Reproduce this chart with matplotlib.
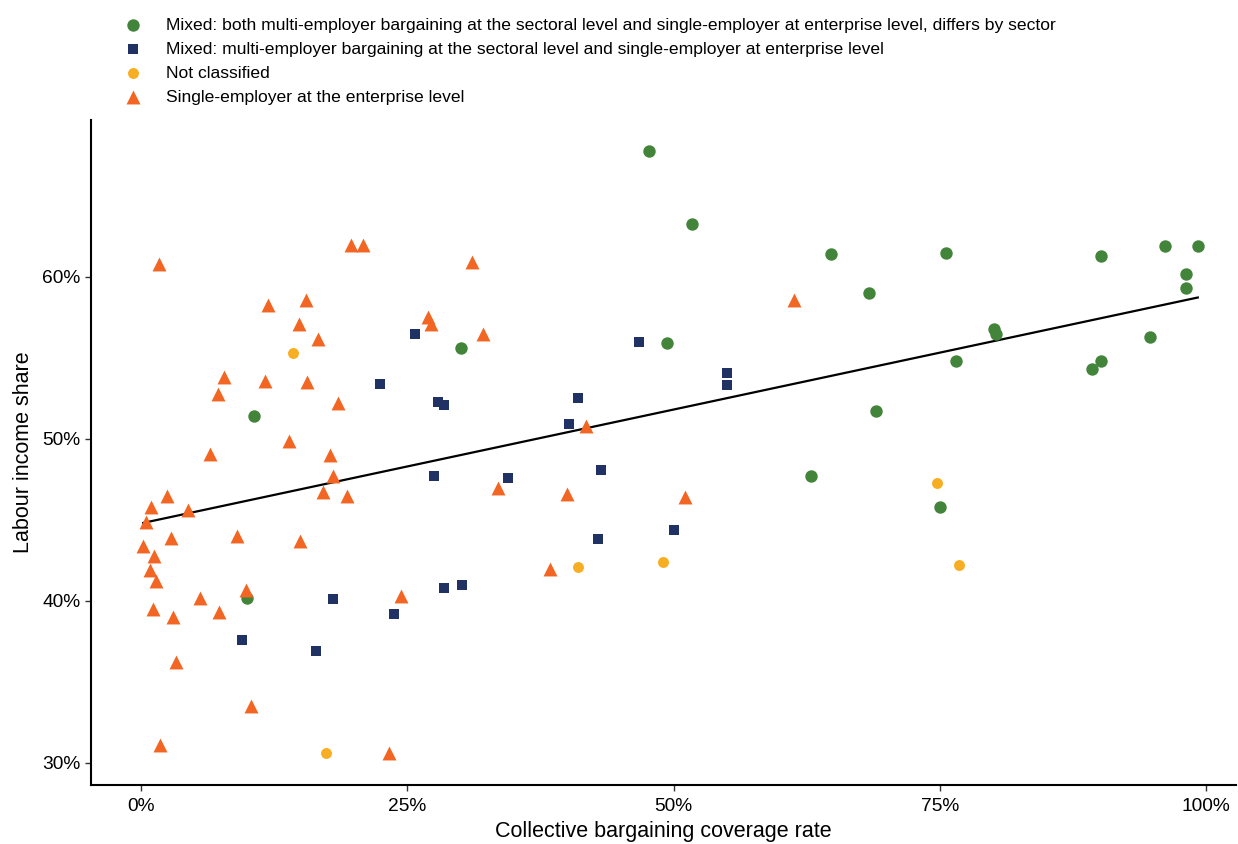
import matplotlib.pyplot as plt
import numpy as np
from matplotlib.ticker import FuncFormatter

plt.rcParams['font.family'] = ['Liberation Sans', 'DejaVu Sans']

# Mixed: both multi-employer (sectoral) and single-employer, differs by sector
both_x = [47.7, 51.7, 64.8, 75.6, 68.3, 96.1, 99.2, 90.1, 98.1, 98.1, 80.1, 80.3,
          76.5, 90.1, 89.3, 94.7, 69.0, 62.9, 75.0, 49.4, 30.0, 10.6, 9.9]
both_y = [67.8, 63.3, 61.4, 61.5, 59.0, 61.9, 61.9, 61.3, 60.2, 59.3, 56.8, 56.5,
          54.8, 54.8, 54.3, 56.3, 51.7, 47.7, 45.8, 55.9, 55.6, 51.4, 40.2]

# Mixed: multi-employer at sectoral level and single-employer at enterprise level
multi_x = [25.7, 46.7, 22.4, 27.9, 28.4, 41.0, 40.2, 55.0, 55.0, 27.5, 34.4, 43.2,
           42.9, 50.0, 18.0, 28.4, 30.1, 23.7, 9.5, 16.4]
multi_y = [56.5, 56.0, 53.4, 52.3, 52.1, 52.5, 50.9, 54.1, 53.3, 47.7, 47.6, 48.1,
           43.8, 44.4, 40.1, 40.8, 41.0, 39.2, 37.6, 36.9]

# Not classified
nc_x = [14.3, 41.0, 49.0, 74.7, 76.8, 17.4]
nc_y = [55.3, 42.1, 42.4, 47.3, 42.2, 30.6]

# Single-employer at the enterprise level
single_x = [1.7, 19.7, 20.8, 31.1, 15.5, 11.9, 14.8, 16.6, 26.9, 27.2, 32.1, 61.3,
            7.8, 11.6, 15.6, 7.2, 18.5, 6.5, 13.9, 17.7, 18.0, 17.1, 19.3, 2.4,
            0.9, 4.4, 0.5, 2.8, 9.0, 14.9, 0.2, 1.2, 0.8, 1.4, 5.5, 9.85, 7.3,
            3.0, 1.1, 24.4, 3.3, 10.3, 1.8, 23.3, 41.8, 33.5, 40.0, 51.1, 38.4]
single_y = [60.8, 62.0, 62.0, 60.9, 58.6, 58.3, 57.1, 56.2, 57.5, 57.1, 56.5, 58.6,
            53.8, 53.6, 53.5, 52.8, 52.2, 49.1, 49.9, 49.0, 47.7, 46.7, 46.5, 46.5,
            45.8, 45.6, 44.9, 43.9, 44.0, 43.7, 43.4, 42.8, 41.9, 41.2, 40.2, 40.7,
            39.3, 39.0, 39.5, 40.3, 36.2, 33.5, 31.1, 30.6, 50.8, 47.0, 46.6, 46.4,
            42.0]

fig = plt.figure(figsize=(12.38, 8.44), dpi=100)
ax = fig.add_axes([0.0735, 0.07, 0.925, 0.788])

all_x = np.array(both_x + multi_x + nc_x + single_x)
all_y = np.array(both_y + multi_y + nc_y + single_y)
slope, icpt = np.polyfit(all_x, all_y, 1)
xs = np.array([all_x.min(), all_x.max()])
ax.plot(xs, icpt + slope * xs, color='black', lw=1.6, zorder=1)

ax.scatter(both_x, both_y, s=80, marker='o', color='#43843b', lw=0, zorder=3,
           label='Mixed: both multi-employer bargaining at the sectoral level and single-employer at enterprise level, differs by sector')
ax.scatter(multi_x, multi_y, s=58, marker='s', color='#1f3263', lw=0, zorder=3,
           label='Mixed: multi-employer bargaining at the sectoral level and single-employer at enterprise level')
ax.scatter(nc_x, nc_y, s=62, marker='o', color='#f8ae22', lw=0, zorder=3,
           label='Not classified')
ax.scatter(single_x, single_y, s=100, marker='^', color='#f26522', lw=0, zorder=3,
           label='Single-employer at the enterprise level')

ax.set_xlim(-4.7, 102.8)
ax.set_ylim(28.64, 69.7)
ax.set_xticks([0, 25, 50, 75, 100])
ax.set_yticks([30, 40, 50, 60])
ax.xaxis.set_major_formatter(FuncFormatter(lambda v, p: f'{v:.0f}%'))
ax.yaxis.set_major_formatter(FuncFormatter(lambda v, p: f'{v:.0f}%'))
ax.tick_params(labelsize=13.8, length=4, width=1, color='#333333', labelcolor='black')
ax.tick_params(axis='x', pad=5.5)
for s in ['top', 'right']:
    ax.spines[s].set_visible(False)
for s in ['left', 'bottom']:
    ax.spines[s].set_linewidth(1.5)
ax.set_xlabel('Collective bargaining coverage rate', fontsize=15.5, labelpad=4)
ax.set_ylabel('Labour income share', fontsize=15.5, labelpad=6)

fig.legend(loc='upper left', bbox_to_anchor=(0.0795, 1.0), frameon=False,
           fontsize=12.6, handletextpad=0.85, labelspacing=0.5, borderaxespad=0.6)

fig.savefig('out.png', dpi=100)
